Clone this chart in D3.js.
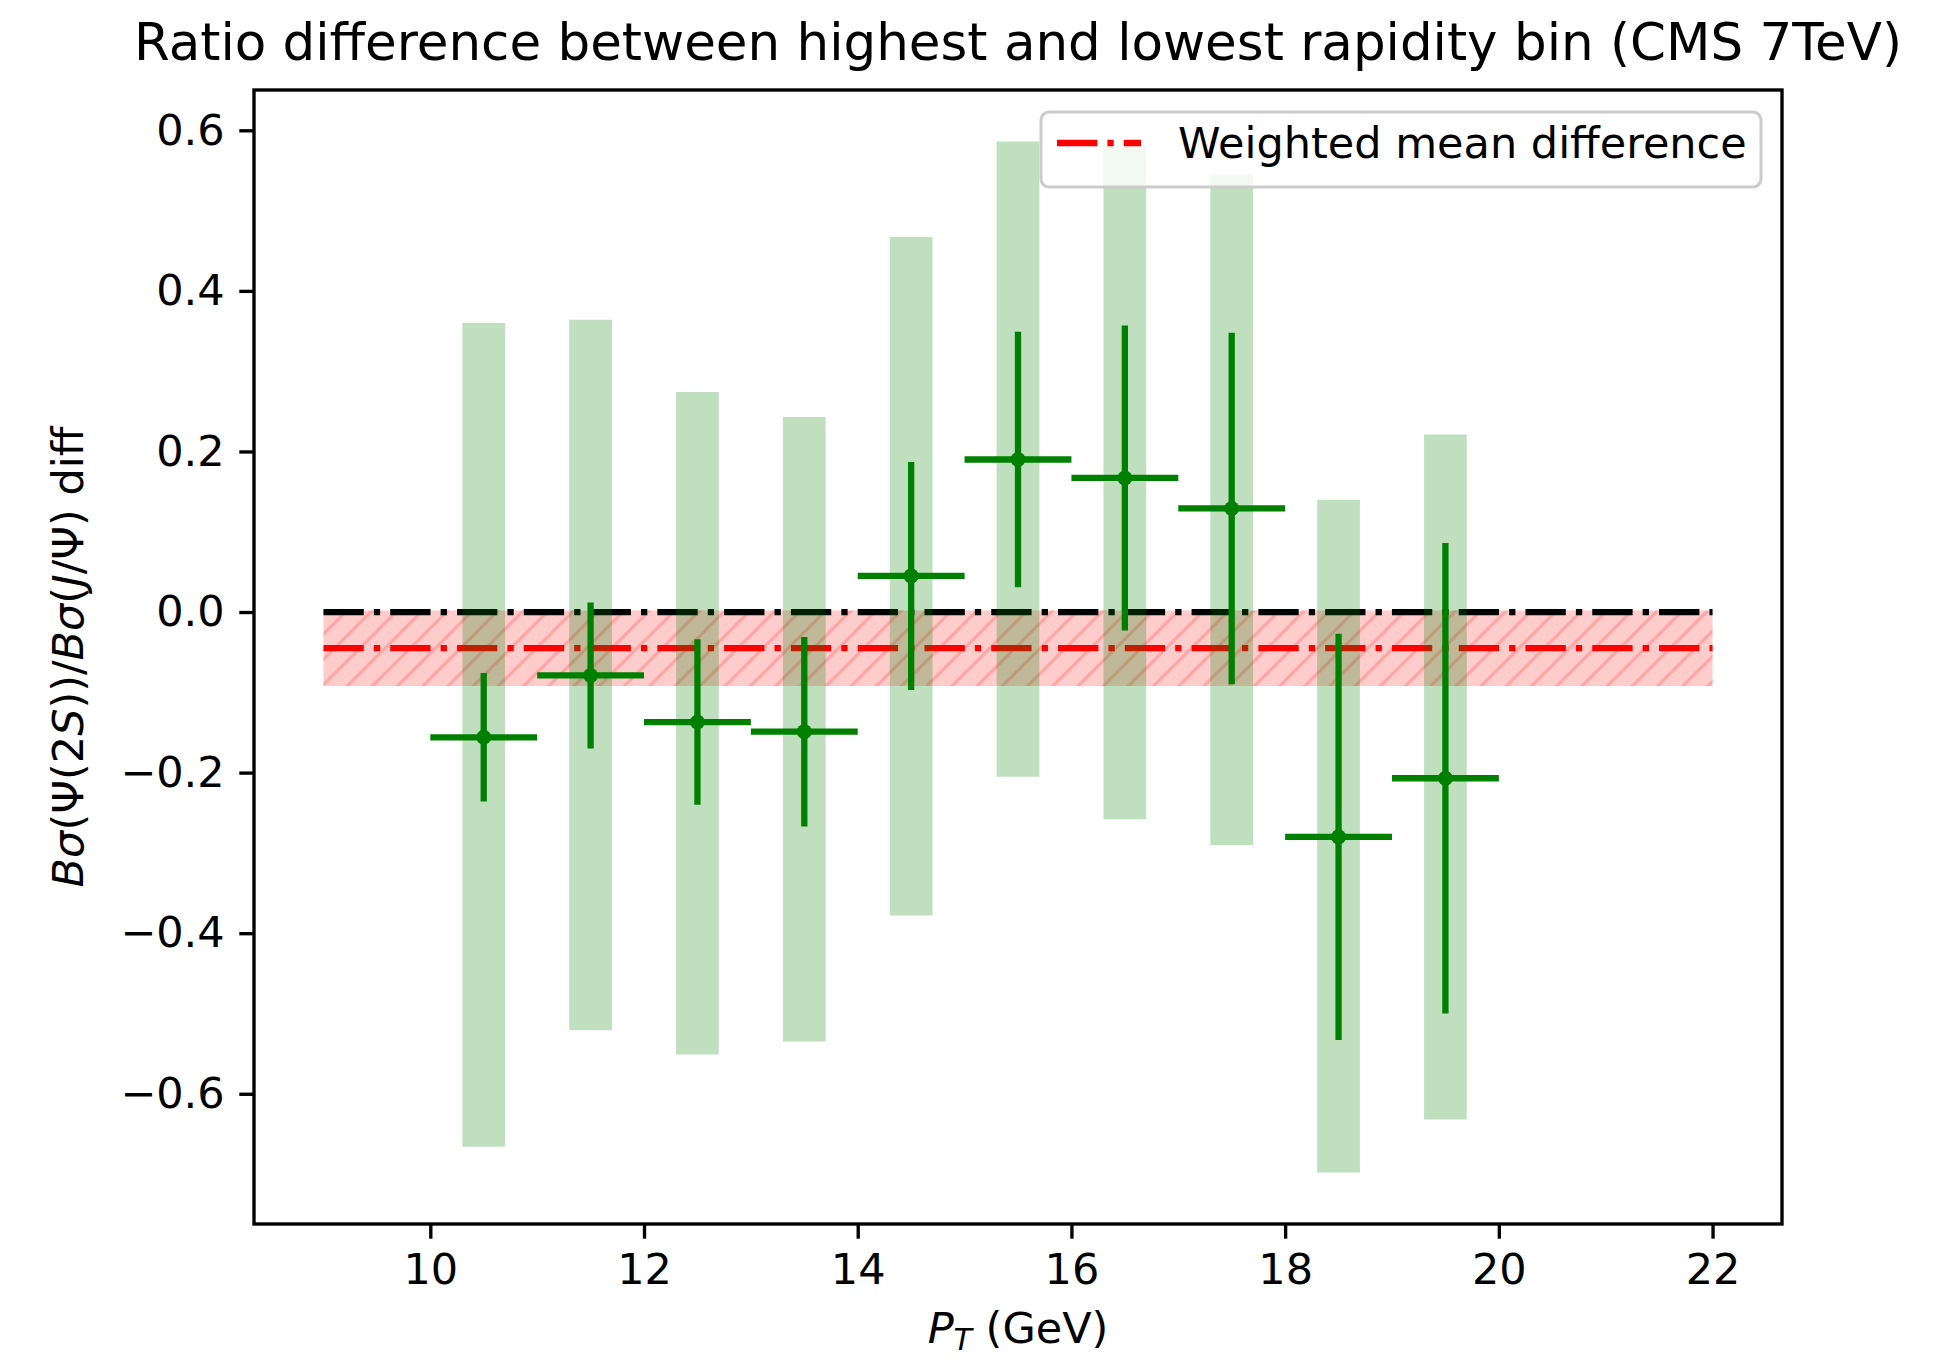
<!DOCTYPE html>
<html>
<head>
<meta charset="utf-8">
<script src="https://cdn.jsdelivr.net/npm/d3@7"></script>
<style>
  html, body { margin: 0; padding: 0; background: #ffffff; }
  svg { display: block; }
  text { font-family: "DejaVu Sans", sans-serif; fill: #000; }
</style>
</head>
<body>
<svg id="chart" width="1953" height="1360"></svg>
<script>
// ---------------- data ----------------
const ptCenters   = [10.5, 11.5, 12.5, 13.5, 14.5, 15.5, 16.5, 17.5, 18.5, 19.5];
const ptHalfWidth = [0.5, 0.5, 0.5, 0.5, 0.5, 0.5, 0.5, 0.5, 0.5, 0.5];
const ratioDiff   = [-0.156, -0.079, -0.137, -0.149, 0.045, 0.190, 0.167, 0.129, -0.280, -0.207];
const statErr     = [0.080, 0.091, 0.103, 0.118, 0.142, 0.159, 0.190, 0.219, 0.253, 0.293];
const bandLow     = [-0.666, -0.521, -0.551, -0.535, -0.378, -0.205, -0.258, -0.290, -0.698, -0.632];
const bandHigh    = [0.360, 0.364, 0.274, 0.243, 0.467, 0.586, 0.580, 0.545, 0.140, 0.221];
const lineRange   = [9, 22];
const weightedMean = -0.045;
const weightedMeanErr = 0.047;
const referenceLevel = 0.0;
const xTickValues = [10, 12, 14, 16, 18, 20, 22];
const yTickValues = [-0.6, -0.4, -0.2, 0.0, 0.2, 0.4, 0.6];
const titleText  = "Ratio difference between highest and lowest rapidity bin (CMS 7TeV)";
const legendText = "Weighted mean difference";

// ---------------- layout ----------------
const W = 1953, H = 1360;
const plot = { left: 254, right: 1782, top: 90, bottom: 1224 };
const PT = 4.2; // px per point
const fs = 43, fsTitle = 51.5;
const lw = 1.5 * PT;
const dashDot = [6.4, 1.6, 1, 1.6].map(d => d * 1.5 * PT).join(",");

const svg = d3.select("#chart");

// domains with 5% margins (matplotlib style)
const xMin = Math.min(lineRange[0], d3.min(ptCenters.map((c, i) => c - ptHalfWidth[i])));
const xMax = Math.max(lineRange[1], d3.max(ptCenters.map((c, i) => c + ptHalfWidth[i])));
const yMin = Math.min(d3.min(bandLow), d3.min(ratioDiff.map((v, i) => v - statErr[i])));
const yMax = Math.max(d3.max(bandHigh), d3.max(ratioDiff.map((v, i) => v + statErr[i])));
const xm = (xMax - xMin) * 0.05, ym = (yMax - yMin) * 0.05;

const x = d3.scaleLinear().domain([xMin - xm, xMax + xm]).range([plot.left, plot.right]);
const y = d3.scaleLinear().domain([yMin - ym, yMax + ym]).range([plot.bottom, plot.top]);

// defs: clip + hatch
const defs = svg.append("defs");
defs.append("clipPath").attr("id", "clip")
  .append("rect").attr("x", plot.left).attr("y", plot.top)
  .attr("width", plot.right - plot.left).attr("height", plot.bottom - plot.top);

const hs = 72 * PT / 12; // 12 lines per inch
const pat = defs.append("pattern").attr("id", "hatch")
  .attr("patternUnits", "userSpaceOnUse")
  .attr("width", hs).attr("height", hs);
pat.append("path")
  .attr("d", `M0,${hs} L${hs},0 M${-hs/2},${hs/2} L${hs/2},${-hs/2} M${hs/2},${hs*1.5} L${hs*1.5},${hs/2}`)
  .attr("stroke", "red").attr("stroke-opacity", 0.2).attr("stroke-width", 3);

const g = svg.append("g").attr("clip-path", "url(#clip)");

// weighted mean band
const bandData = [
  { x: lineRange[0], lo: weightedMean - weightedMeanErr, hi: weightedMean + weightedMeanErr },
  { x: lineRange[1], lo: weightedMean - weightedMeanErr, hi: weightedMean + weightedMeanErr }
];
const area = d3.area().x(d => x(d.x)).y0(d => y(d.lo)).y1(d => y(d.hi));
g.append("path").datum(bandData).attr("d", area)
  .attr("fill", "red").attr("fill-opacity", 0.2);
g.append("path").datum(bandData).attr("d", area)
  .attr("fill", "url(#hatch)");

// reference line at 0 (black dash-dot)
const line = d3.line().x(d => x(d[0])).y(d => y(d[1]));
g.append("path").datum(lineRange.map(v => [v, referenceLevel])).attr("d", line)
  .attr("stroke", "black").attr("stroke-width", lw).attr("fill", "none")
  .attr("stroke-dasharray", dashDot);

// weighted mean line (red dash-dot)
g.append("path").datum(lineRange.map(v => [v, weightedMean])).attr("d", line)
  .attr("stroke", "red").attr("stroke-width", lw).attr("fill", "none")
  .attr("stroke-dasharray", dashDot);

// systematic bands (green, translucent thick bars)
g.selectAll("line.band").data(ptCenters).enter().append("line")
  .attr("class", "band")
  .attr("x1", d => x(d)).attr("x2", d => x(d))
  .attr("y1", (d, i) => y(bandLow[i])).attr("y2", (d, i) => y(bandHigh[i]))
  .attr("stroke", "green").attr("stroke-opacity", 0.25)
  .attr("stroke-width", x(0.4) - x(0));

// error bars
g.selectAll("line.xerr").data(ptCenters).enter().append("line")
  .attr("x1", (d, i) => x(d - ptHalfWidth[i])).attr("x2", (d, i) => x(d + ptHalfWidth[i]))
  .attr("y1", (d, i) => y(ratioDiff[i])).attr("y2", (d, i) => y(ratioDiff[i]))
  .attr("stroke", "green").attr("stroke-width", lw);
g.selectAll("line.yerr").data(ptCenters).enter().append("line")
  .attr("x1", d => x(d)).attr("x2", d => x(d))
  .attr("y1", (d, i) => y(ratioDiff[i] - statErr[i])).attr("y2", (d, i) => y(ratioDiff[i] + statErr[i]))
  .attr("stroke", "green").attr("stroke-width", lw);
g.selectAll("circle.pt").data(ptCenters).enter().append("circle")
  .attr("cx", d => x(d)).attr("cy", (d, i) => y(ratioDiff[i]))
  .attr("r", 7.5).attr("fill", "green");

// axes
const tickLen = 3.5 * PT, tickPad = 3.5 * PT;
const xAxis = d3.axisBottom(x).tickValues(xTickValues).tickFormat(d3.format("d"))
  .tickSizeInner(tickLen).tickSizeOuter(0).tickPadding(tickPad);
const yAxis = d3.axisLeft(y).tickValues(yTickValues).tickFormat(d3.format(".1f"))
  .tickSizeInner(tickLen).tickSizeOuter(0).tickPadding(tickPad);

const gx = svg.append("g").attr("transform", `translate(0,${plot.bottom})`).call(xAxis);
const gy = svg.append("g").attr("transform", `translate(${plot.left},0)`).call(yAxis);
[gx, gy].forEach(a => {
  a.select(".domain").remove();
  a.selectAll(".tick line").attr("stroke", "black").attr("stroke-width", 0.8 * PT);
  a.selectAll(".tick text").attr("font-size", fs).attr("font-family", "DejaVu Sans").attr("fill", "black");
});

// frame
svg.append("rect").attr("x", plot.left).attr("y", plot.top)
  .attr("width", plot.right - plot.left).attr("height", plot.bottom - plot.top)
  .attr("fill", "none").attr("stroke", "black").attr("stroke-width", 0.8 * PT);

// title
svg.append("text").attr("x", (plot.left + plot.right) / 2).attr("y", 60)
  .attr("text-anchor", "middle").attr("font-size", fsTitle).text(titleText);

// x label: P_T (GeV)
const xl = svg.append("text").attr("x", (plot.left + plot.right) / 2).attr("y", 1343)
  .attr("text-anchor", "middle").attr("font-size", fs);
xl.append("tspan").attr("font-style", "italic").text("P");
xl.append("tspan").attr("font-style", "italic").attr("font-size", fs * 0.7).attr("dy", 7).text("T");
xl.append("tspan").attr("dy", -7).text(" (GeV)");

// y label
const yl = svg.append("text")
  .attr("transform", `translate(83,${(plot.top + plot.bottom) / 2}) rotate(-90)`)
  .attr("text-anchor", "middle").attr("font-size", fs);
[["B", true], ["σ", true], ["(Ψ(2", false], ["S", true], ["))/", false],
 ["B", true], ["σ", true], ["(", false], ["J", true], ["/Ψ) diff", false]].forEach(([t, it]) => {
  yl.append("tspan").attr("font-style", it ? "italic" : "normal").text(t);
});

// legend
const lg = svg.append("g");
lg.append("rect").attr("x", 1041).attr("y", 112).attr("width", 720).attr("height", 75)
  .attr("rx", 8).attr("fill", "white").attr("fill-opacity", 0.8)
  .attr("stroke", "#cccccc").attr("stroke-width", 3);
lg.append("line").attr("x1", 1057).attr("x2", 1141).attr("y1", 143).attr("y2", 143)
  .attr("stroke", "red").attr("stroke-width", lw).attr("stroke-dasharray", dashDot);
lg.append("text").attr("x", 1178).attr("y", 158).attr("font-size", fs).text(legendText);
</script>
</body>
</html>
